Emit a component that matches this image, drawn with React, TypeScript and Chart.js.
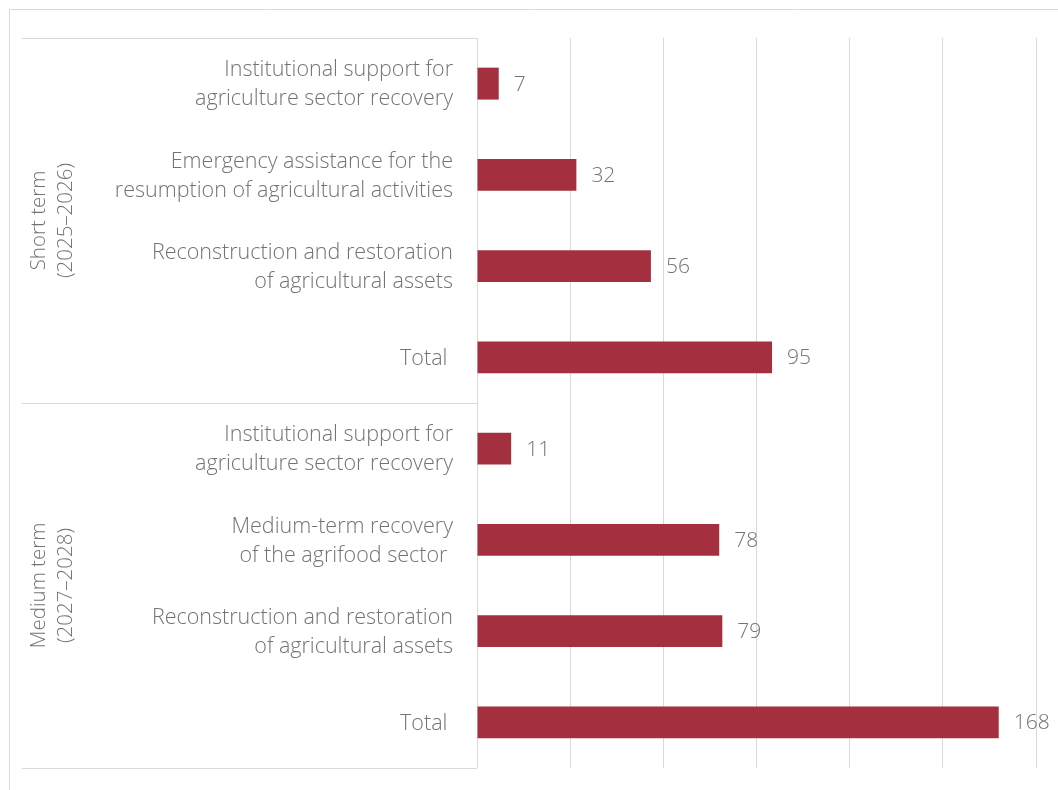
import React, { useEffect, useRef } from "react";
import { Chart, registerables } from "chart.js";

Chart.register(...registerables);

const categories: string[][] = [
  ["Institutional support for", "agriculture sector recovery"],
  ["Emergency assistance for the", "resumption of agricultural activities"],
  ["Reconstruction and restoration", "of agricultural assets"],
  ["Total "],
  ["Institutional support for", "agriculture sector recovery"],
  ["Medium-term recovery", "of the agrifood sector "],
  ["Reconstruction and restoration", "of agricultural assets"],
  ["Total "],
];
const values: number[] = [7, 32, 56, 95, 11, 78, 79, 168];
const groups: { label: string[]; from: number; to: number }[] = [
  { label: ["Short term", "(2025\u20132026)"], from: 0, to: 3 },
  { label: ["Medium term", "(2027\u20132028)"], from: 4, to: 7 },
];

const FONT = "'Open Sans', 'Segoe UI', sans-serif";
const GRAY = "#737373";
const LINE = "#d9d9d9";
const BAR = "#A4303F";

const decor = {
  id: "decor",
  beforeDraw(chart: any) {
    const ctx = chart.ctx;
    const { left, top, bottom } = chart.chartArea;
    ctx.save();
    ctx.strokeStyle = LINE;
    ctx.lineWidth = 1;
    ctx.beginPath();
    ctx.moveTo(9.5, chart.height);
    ctx.lineTo(9.5, 9.5);
    ctx.lineTo(chart.width, 9.5);
    ctx.stroke();
    const y = chart.scales.y;
    const seps = [top, (y.getPixelForValue(3) + y.getPixelForValue(4)) / 2, bottom];
    ctx.beginPath();
    seps.forEach((s: number) => {
      const yy = Math.round(s) + 0.5;
      ctx.moveTo(22, yy);
      ctx.lineTo(left, yy);
    });
    ctx.stroke();
    ctx.restore();
  },
  afterDatasetsDraw(chart: any) {
    const ctx = chart.ctx;
    const y = chart.scales.y;
    const left = chart.chartArea.left;
    ctx.save();
    ctx.fillStyle = GRAY;
    ctx.textBaseline = "middle";
    const meta = chart.getDatasetMeta(0);
    // value labels
    ctx.font = `300 21px ${FONT}`;
    ctx.textAlign = "left";
    meta.data.forEach((bar: any, i: number) => {
      ctx.fillText(String(values[i]), bar.x + 15, bar.y + 1);
    });
    // category labels
    ctx.font = `300 21.5px ${FONT}`;
    ctx.textAlign = "right";
    categories.forEach((lines, i) => {
      const cy = y.getPixelForValue(i);
      const lh = 29;
      const start = cy - ((lines.length - 1) * lh) / 2;
      lines.forEach((ln, k) => ctx.fillText(ln, left - 24, start + k * lh + 1));
    });
    // group labels
    ctx.font = `300 20.5px ${FONT}`;
    groups.forEach((g) => {
      const cy = (y.getPixelForValue(g.from) + y.getPixelForValue(g.to)) / 2;
      ctx.save();
      ctx.translate(53, cy);
      ctx.rotate(-Math.PI / 2);
      ctx.textAlign = "center";
      ctx.textBaseline = "middle";
      ctx.fillText(g.label[0], 0, -13.5);
      ctx.fillText(g.label[1], 0, 13.5);
      ctx.restore();
    });
    ctx.restore();
  },
};

export default function App() {
  const ref = useRef<HTMLCanvasElement>(null);
  useEffect(() => {
    if (!ref.current) return;
    const chart = new Chart(ref.current, {
      type: "bar",
      data: {
        labels: categories.map((c) => c.join(" ")),
        datasets: [
          {
            data: values,
            backgroundColor: BAR,
            borderWidth: 0,
            barPercentage: 0.7,
            categoryPercentage: 0.5,
          },
        ],
      },
      options: {
        indexAxis: "y",
        animation: false,
        responsive: false,
        maintainAspectRatio: false,
        layout: { padding: { top: 38, bottom: 22, right: 22, left: 0 } },
        plugins: { legend: { display: false }, tooltip: { enabled: false } },
        scales: {
          x: {
            min: 0,
            max: 180,
            afterFit(scale: any) {
              scale.height = 0;
            },
            ticks: { display: false, stepSize: 30 },
            grid: { color: LINE, drawTicks: false },
            border: { display: false },
          },
          y: {
            afterFit(scale: any) {
              scale.width = 477;
            },
            grid: { display: false },
            border: { display: false },
            ticks: { display: false },
          },
        },
      },
      plugins: [decor],
    });
    return () => chart.destroy();
  }, []);
  return (
    <div style={{ position: "absolute", left: 0, top: 0, width: 1058, height: 790, background: "#fff" }}>
      <canvas ref={ref} width={1058} height={790} />
    </div>
  );
}
